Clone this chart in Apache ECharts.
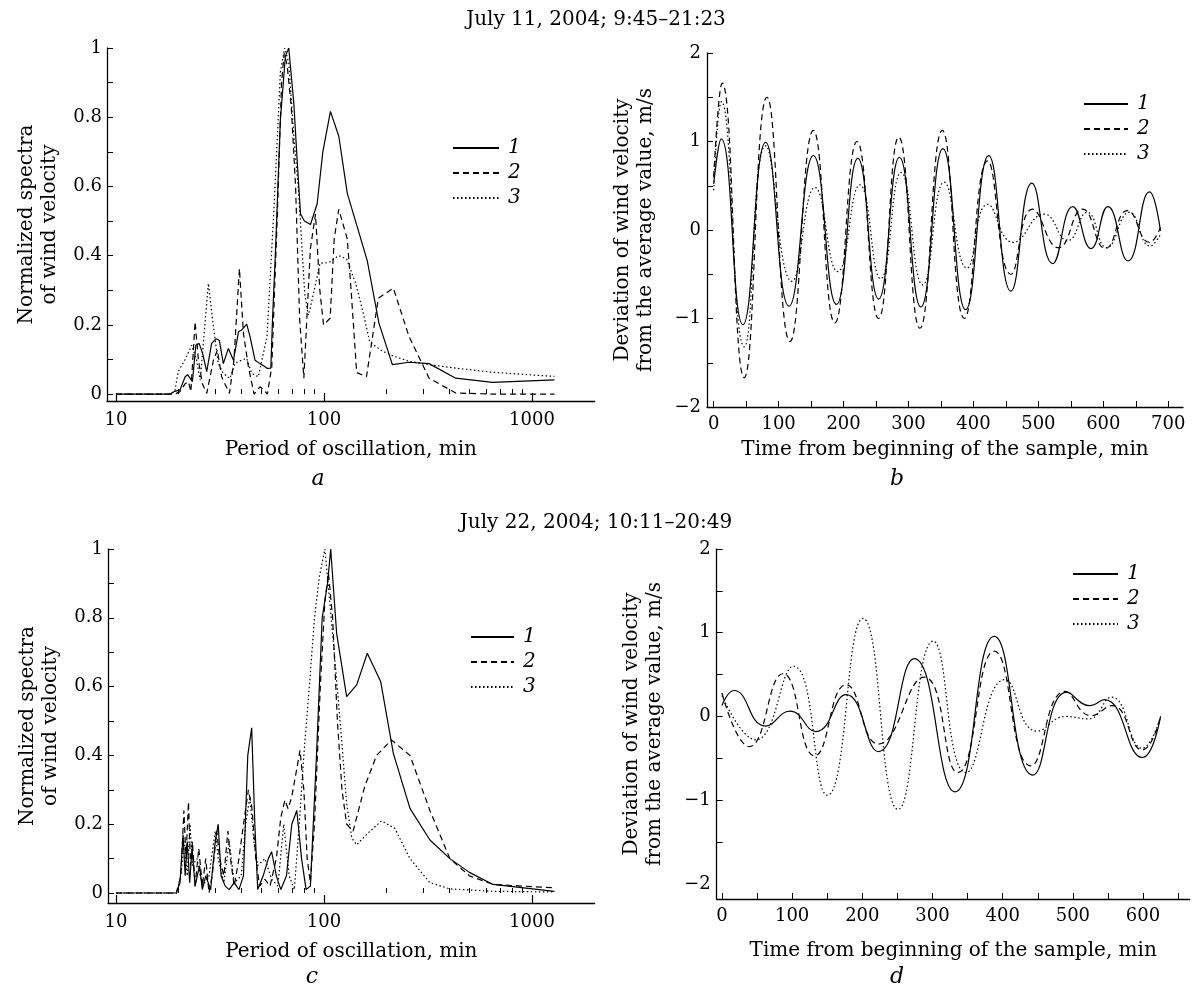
<!DOCTYPE html>
<html><head><meta charset="utf-8">
<script src="https://cdn.jsdelivr.net/npm/echarts@6/dist/echarts.min.js"></script>
<style>html,body{margin:0;padding:0;background:#fff}#c{width:1192px;height:992px}</style>
</head><body><div id="c"></div>
<script>
// ---------- DATA ----------
// Panel a: normalized spectra, July 11 [period(min), value]
const a1 = [[10,0],[18.2,0],[19.2,0.008],[20.3,0.012],[20.7,0.017],[21.5,0.05],[22.1,0.056],[22.5,0.055],[23.3,0.036],[24.2,0.141],[25.1,0.146],[26.1,0.117],[27.3,0.065],[28.8,0.146],[30.3,0.16],[31.4,0.155],[32.8,0.088],[34.7,0.132],[36.7,0.098],[38.8,0.18],[40.2,0.185],[42.5,0.202],[44.1,0.166],[46.6,0.098],[49.2,0.088],[51.5,0.081],[53.4,0.074],[55.5,0.075],[56.6,0.223],[58.4,0.408],[61.7,0.793],[65.2,0.976],[67.7,1.0],[71.6,0.84],[74.3,0.675],[77.1,0.52],[80.5,0.5],[86.1,0.49],[92.7,0.55],[98.7,0.7],[107.4,0.817],[117.8,0.745],[129.4,0.58],[144.5,0.483],[161.5,0.385],[183.7,0.205],[213.2,0.085],[256.4,0.092],[320,0.088],[430,0.046],[646,0.034],[1282,0.041]];
const a2 = [[10,0],[19.2,0],[20.3,0.007],[21.5,0.03],[22.3,0.036],[22.9,0.007],[24.0,0.209],[24.9,0.098],[26,0.03],[27.3,0.002],[29.4,0.098],[30.7,0.127],[32.2,0.05],[35.1,0.002],[36.9,0.098],[39.2,0.363],[41.0,0.175],[43.3,0.079],[46.1,0.0],[49.2,0.021],[51.5,0.012],[53.4,0.0],[56.1,0.079],[59.5,0.5],[62.5,0.9],[64.4,0.985],[66.5,0.95],[69.6,0.83],[73,0.6],[76.4,0.215],[80,0.046],[86,0.42],[91,0.52],[95.5,0.3],[99.5,0.2],[107,0.219],[112,0.45],[117.8,0.534],[129.4,0.448],[135,0.3],[143.6,0.062],[160,0.05],[182.5,0.277],[215.5,0.306],[256,0.167],[320,0.046],[430,0.003],[646,0],[1282,0]];
const a3 = [[10,0],[18.2,0],[19.2,0.01],[19.9,0.065],[21.5,0.1],[23.1,0.141],[24.4,0.098],[25.4,0.04],[27.8,0.32],[29.4,0.195],[31.0,0.089],[32.8,0.06],[35.3,0.045],[37.3,0.089],[40.2,0.098],[42.5,0.103],[44.9,0.06],[48.3,0.05],[50.1,0.094],[53.2,0.166],[57.4,0.53],[61.7,0.93],[64.7,1.0],[67.7,0.957],[71.6,0.745],[75.6,0.58],[80.8,0.29],[84,0.228],[86,0.25],[95.7,0.378],[105.6,0.38],[117.8,0.4],[128.5,0.39],[142,0.32],[155,0.23],[166,0.15],[190,0.125],[217,0.109],[256,0.095],[320,0.085],[430,0.075],[646,0.063],[1282,0.051]];

// Panel b: deviation of wind velocity, July 11 [time(min), m/s]
const b1 = [[0,0.52],[11.6,1.03],[45,-1.07],[80,0.99],[116,-0.86],[153.5,0.84],[189,-0.84],[222,0.81],[254,-0.78],[286,0.82],[319,-0.87],[353,0.92],[388,-0.9],[423.5,0.84],[457.7,-0.69],[490,0.53],[522,-0.38],[553,0.265],[581,-0.21],[607,0.265],[638,-0.35],[671,0.43],[688,-0.01]];
const b2 = [[0,0.6],[13,1.66],[47,-1.67],[82,1.5],[117.6,-1.26],[153.5,1.125],[186.6,-1.05],[220.7,1.0],[253.8,-1.0],[285,1.05],[317.5,-1.11],[352,1.125],[386,-1.0],[421.8,0.78],[457.7,-0.5],[491,0.235],[531,-0.2],[568,0.235],[603,-0.21],[637,0.22],[671,-0.14],[688,0.03]];
const b3 = [[0,0.45],[12,1.45],[47,-1.32],[80,0.95],[120.5,-0.58],[156,0.48],[191,-0.47],[225,0.51],[257,-0.55],[288.5,0.65],[322,-0.62],[355,0.54],[390,-0.43],[421.8,0.29],[461,-0.14],[508.7,0.18],[545,-0.12],[575,0.2],[605,-0.2],[640,0.2],[672,-0.18],[688,-0.05]];

// Panel c: normalized spectra, July 22
const c1 = [[10,0],[19.5,0],[20.3,0.03],[21.0,0.17],[21.5,0.05],[22.0,0.15],[22.6,0.03],[23.2,0.13],[24,0.02],[25.2,0.08],[26,0.01],[27,0.05],[28.5,0.01],[30,0.15],[31,0.2],[32,0.05],[33.5,0.02],[35,0.01],[37,0.03],[39,0.01],[41,0.05],[43,0.4],[44.9,0.48],[46.5,0.2],[48,0.01],[51,0.05],[54,0.1],[56,0.12],[59,0.05],[62,0.01],[66,0.05],[70,0.2],[74,0.24],[78,0.1],[82,0.01],[86,0.02],[92,0.4],[98,0.8],[104,0.9],[107.7,1.0],[115,0.755],[128.5,0.571],[143.6,0.605],[161.5,0.697],[187.4,0.614],[215.5,0.406],[259,0.246],[323,0.154],[403,0.1],[500,0.06],[650,0.025],[1282,0.005]];
const c2 = [[10,0],[19.5,0],[20.5,0.05],[21.2,0.24],[21.7,0.1],[22.3,0.265],[22.8,0.08],[23.3,0.15],[24,0.02],[25,0.13],[26,0.02],[27,0.1],[28,0.0],[29,0.05],[30.5,0.18],[31.5,0.1],[33,0.05],[34.5,0.18],[35.5,0.1],[37,0.02],[39,0.1],[41,0.2],[43.3,0.3],[45,0.25],[47,0.1],[49,0.02],[52,0.04],[55,0.02],[59,0.1],[62,0.22],[64.9,0.27],[67.2,0.245],[70,0.28],[76.7,0.415],[80,0.3],[83,0.1],[86,0.03],[90,0.2],[96,0.6],[101,0.85],[105,0.93],[110,0.8],[116,0.5],[122,0.3],[128.5,0.2],[138,0.18],[157,0.31],[179,0.4],[211,0.445],[259,0.4],[323,0.24],[403,0.1],[500,0.05],[650,0.025],[1282,0.015]];
const c3 = [[10,0],[19.5,0],[20.5,0.05],[21.3,0.15],[22,0.05],[22.7,0.2],[23.3,0.08],[24.5,0.1],[26,0.02],[28,0.05],[30,0.18],[31,0.1],[33,0.03],[35,0.15],[37,0.03],[40,0.05],[42,0.2],[44,0.28],[46,0.15],[48,0.08],[52,0.1],[56,0.04],[60,0.02],[64,0.2],[68,0.05],[72,0.01],[76,0.2],[80,0.4],[85,0.6],[90,0.8],[95,0.92],[101,1.0],[105,0.89],[112,0.7],[121,0.46],[128.5,0.26],[136,0.16],[143.6,0.14],[160,0.17],[189,0.21],[219,0.188],[259,0.1],[323,0.03],[403,0.012],[650,0.005],[1282,0.003]];

// Panel d: deviation of wind velocity, July 22
const d1 = [[0,0.13],[17,0.31],[62,-0.115],[97,0.063],[134,-0.18],[177,0.26],[223,-0.42],[274,0.69],[332,-0.9],[388,0.956],[443,-0.7],[491.5,0.29],[524,0.13],[545,0.2],[599,-0.49],[625,0]];
const d2 = [[0,0.28],[39,-0.36],[87,0.51],[132,-0.47],[177,0.38],[223,-0.33],[288,0.47],[336,-0.67],[388,0.78],[440,-0.59],[489,0.3],[526,0.01],[556,0.13],[599,-0.4],[625,0]];
const d3 = [[0,0.25],[48,-0.28],[102,0.6],[150,-0.94],[201,1.17],[251,-1.11],[301,0.9],[347.7,-0.67],[403,0.44],[448.7,-0.175],[490,0.0],[522,-0.03],[555,0.23],[599,-0.38],[625,0]];

// Tick values
const logMajorTicks = [10,100,1000];
const logMinorTicks = [20,30,40,50,60,70,80,90,200,300,400,500,600,700,800,900];
const specTicks = [0,0.1,0.2,0.3,0.4,0.5,0.6,0.7,0.8,0.9,1];
const specLabels = [0,0.2,0.4,0.6,0.8,1];
const devTicks = [-1.5,-1,-0.5,0,0.5,1,1.5,2];
const devLabels = [-2,-1,0,1,2];
const timeTicksB = [0,50,100,150,200,250,300,350,400,450,500,550,600,650,700];
const timeLabelsB = [0,100,200,300,400,500,600,700];
const timeTicksD = [0,50,100,150,200,250,300,350,400,450,500,550,600,650];
const timeLabelsD = [0,100,200,300,400,500,600];
const legendNames = ['1','2','3'];

// ---------- CHART ----------
const F = 'DejaVu Serif';
const lbl = {fontFamily: F, fontSize: 18, color: '#000'};
const nameStyle = {fontFamily: F, fontSize: 20, color: '#000', lineHeight: 23};
const axLine = {onZero: false, lineStyle: {color: '#000', width: 1.3}};
const minus = v => String(v).replace('-', '\u2212');

function logMajor(g, min, max, gap) {
  return {type: 'log', gridIndex: g, min, max, position: 'bottom',
    axisLine: axLine,
    axisTick: {inside: true, length: 8, customValues: logMajorTicks, lineStyle: {color: '#000', width: 1.2}},
    axisLabel: {customValues: logMajorTicks, margin: 10, formatter: v => String(Math.round(v)), ...lbl},
    splitLine: {show: false},
    name: 'Period of oscillation, min', nameLocation: 'middle', nameGap: gap, nameTextStyle: nameStyle};
}
function logMinor(g, min, max) {
  return {type: 'log', gridIndex: g, min, max, position: 'bottom',
    axisLine: {show: false},
    axisTick: {inside: true, length: 5, customValues: logMinorTicks, lineStyle: {color: '#000', width: 1}},
    axisLabel: {show: false}, splitLine: {show: false}};
}
function timeAxis(g, min, max, ticks, labels, gap) {
  return {type: 'value', gridIndex: g, min, max, position: 'bottom',
    axisLine: axLine,
    axisTick: {inside: true, length: 6, customValues: ticks, lineStyle: {color: '#000', width: 1}},
    axisLabel: {customValues: labels, margin: 8, ...lbl},
    splitLine: {show: false},
    name: 'Time from beginning of the sample, min', nameLocation: 'middle', nameGap: gap, nameTextStyle: nameStyle};
}
function specY(g, min) {
  return {type: 'value', gridIndex: g, min, max: 1,
    axisLine: axLine,
    axisTick: {inside: true, length: 6, customValues: specTicks, lineStyle: {color: '#000', width: 1}},
    axisLabel: {customValues: specLabels, margin: 5, formatter: v => String(+v.toFixed(1)), ...lbl},
    splitLine: {show: false},
    name: 'Normalized spectra\nof wind velocity', nameLocation: 'middle', nameRotate: 90, nameGap: 46, nameTextStyle: nameStyle};
}
function devY(g, min) {
  return {type: 'value', gridIndex: g, min, max: 2,
    axisLine: axLine,
    axisTick: {inside: true, length: 6, customValues: devTicks, lineStyle: {color: '#000', width: 1}},
    axisLabel: {customValues: devLabels, margin: 6, formatter: v => minus(Math.round(v)), ...lbl},
    splitLine: {show: false},
    name: 'Deviation of wind velocity\nfrom the average value, m/s', nameLocation: 'middle', nameRotate: 90, nameGap: 50, nameTextStyle: nameStyle};
}

const styles = {
  '1': {color: '#000', width: 1.2, type: 'solid'},
  '2': {color: '#000', width: 1.2, type: [6, 4]},
  '3': {color: '#000', width: 1.2, type: [1.5, 2.5]}
};
function ser(name, data, xi, yi, smooth) {
  return {name, type: 'line', data, xAxisIndex: xi, yAxisIndex: yi, symbol: 'none', showSymbol: false,
    smooth: smooth, lineStyle: styles[name], itemStyle: {color: '#000'}, animation: false, silent: true};
}
function legend(left, top, w, gap) {
  return {data: legendNames, orient: 'vertical', left, top, padding: 0, itemWidth: w, itemHeight: 12, itemGap: gap,
    selectedMode: false, itemStyle: {opacity: 0},
    textStyle: {fontFamily: F, fontSize: 20, lineHeight: 20, fontStyle: 'italic', color: '#000', padding: [0, 0, 0, 4]}};
}
const letter = (t, x, y) => ({type: 'text', x, y, style: {text: t, font: 'italic 22px "DejaVu Serif"', fill: '#000', textAlign: 'center', textVerticalAlign: 'middle'}});

const option = {
  backgroundColor: '#fff',
  animation: false,
  title: [
    {text: 'July 11, 2004; 9:45\u201321:23', left: 'center', top: 5, textStyle: {fontFamily: F, fontSize: 20, fontWeight: 'normal', color: '#000'}},
    {text: 'July 22, 2004; 10:11\u201320:49', left: 'center', top: 508, textStyle: {fontFamily: F, fontSize: 20, fontWeight: 'normal', color: '#000'}}
  ],
  graphic: [letter('a', 318, 479), letter('b', 897, 479), letter('c', 312, 977), letter('d', 897, 977)],
  legend: [legend(452, 138, 46, 5), legend(1083, 94, 44, 5), legend(470, 627, 43, 5), legend(1072, 564, 45, 5)],
  grid: [
    {left: 107, top: 48, width: 487.6, height: 353},
    {left: 707, top: 53, width: 476, height: 354},
    {left: 108, top: 549, width: 486.6, height: 354},
    {left: 716.7, top: 549, width: 473, height: 350}
  ],
  xAxis: [
    logMajor(0, 9.05, 2000, 37), logMinor(0, 9.05, 2000),
    timeAxis(1, -10.3, 722.7, timeTicksB, timeLabelsB, 31),
    logMajor(2, 9.15, 2000, 37), logMinor(2, 9.15, 2000),
    timeAxis(3, -7.5, 666.5, timeTicksD, timeLabelsD, 40)
  ],
  yAxis: [specY(0, -0.02), devY(1, -2), specY(2, -0.029), devY(3, -2.18)],
  series: [
    ser('1', a1, 0, 0, false), ser('2', a2, 0, 0, false), ser('3', a3, 0, 0, false),
    ser('1', b1, 2, 1, 0.5), ser('2', b2, 2, 1, 0.5), ser('3', b3, 2, 1, 0.5),
    ser('1', c1, 3, 2, false), ser('2', c2, 3, 2, false), ser('3', c3, 3, 2, false),
    ser('1', d1, 5, 3, 0.5), ser('2', d2, 5, 3, 0.5), ser('3', d3, 5, 3, 0.5)
  ]
};
const chart = echarts.init(document.getElementById('c'));
chart.setOption(option);
</script></body></html>
